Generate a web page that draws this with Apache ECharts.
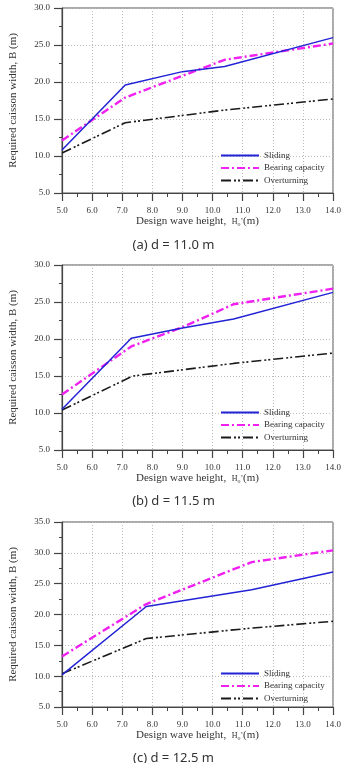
<!DOCTYPE html>
<html>
<head>
<meta charset="utf-8">
<script src="https://cdn.jsdelivr.net/npm/echarts@6/dist/echarts.min.js"></script>
<style>
html,body{margin:0;padding:0;background:#fff;}
#chart{width:347px;height:763px;}
</style>
</head>
<body>
<div id="chart"></div>
<script>
// ---- Data ----
var seriesNames = ['Sliding', 'Bearing capacity', 'Overturning'];
var captions = ['(a) d = 11.0 m', '(b) d = 11.5 m', '(c) d = 12.5 m'];
var xTicks = [5, 6, 7, 8, 9, 10, 11, 12, 13, 14];
var yMaxes = [30, 30, 35];

// Panel (a) d = 11.0 m
var hSlidingA = [5.0, 7.1, 9.0, 10.4, 14.0];
var bSlidingA = [10.8, 19.6, 21.4, 22.1, 26.0];
var hBearingA = [5.0, 7.1, 10.4, 14.0];
var bBearingA = [12.1, 17.9, 23.0, 25.2];
var hOverA = [5.0, 7.1, 10.4, 14.0];
var bOverA = [10.4, 14.5, 16.2, 17.7];

// Panel (b) d = 11.5 m
var hSlidingB = [5.0, 7.3, 9.0, 10.7, 14.0];
var bSlidingB = [10.5, 20.1, 21.5, 22.7, 26.3];
var hBearingB = [5.0, 7.3, 9.0, 10.7, 14.0];
var bBearingB = [12.5, 19.0, 21.6, 24.7, 26.8];
var hOverB = [5.0, 7.35, 10.7, 14.0];
var bOverB = [10.4, 15.0, 16.7, 18.1];

// Panel (c) d = 12.5 m
var hSlidingC = [5.0, 7.8, 11.3, 14.0];
var bSlidingC = [10.2, 21.3, 24.0, 26.9];
var hBearingC = [5.0, 7.8, 11.3, 14.0];
var bBearingC = [13.2, 21.7, 28.5, 30.4];
var hOverC = [5.0, 7.8, 11.3, 14.0];
var bOverC = [10.4, 16.1, 17.8, 18.9];

var panels = [
  [[hSlidingA, bSlidingA], [hBearingA, bBearingA], [hOverA, bOverA]],
  [[hSlidingB, bSlidingB], [hBearingB, bBearingB], [hOverB, bOverB]],
  [[hSlidingC, bSlidingC], [hBearingC, bBearingC], [hOverC, bOverC]]
];

// ---- Styles ----
var SERIF = '"Liberation Serif","DejaVu Serif",serif';
var gridTops = [8, 265, 522];
var gridH = 185;
var lineStyles = [
  {color: '#2323d6', width: 1.5, type: 'solid'},
  {color: '#f020f0', width: 2.4, type: [8, 3, 2, 3]},
  {color: '#1a1a1a', width: 1.6, type: [10, 3, 2, 2, 2, 3]}
];
var captionCenters = [243, 499, 756];
var legendTops = [146, 403, 664];

function zip(a, b) { return a.map(function (v, i) { return [v, b[i]]; }); }

var grids = [], xAxes = [], yAxes = [], series = [], legends = [], titles = [];
for (var p = 0; p < 3; p++) {
  grids.push({left: 57, right: 14, top: gridTops[p], height: gridH,
    show: true, borderColor: '#555', borderWidth: 1, backgroundColor: 'transparent'});
  xAxes.push({
    type: 'value', gridIndex: p, min: 5, max: 14, interval: 1,
    name: 'Design wave height,  {h|H}{s|o}{h|\u2019}(m)',
    nameLocation: 'middle', nameGap: 23,
    nameTextStyle: {fontFamily: SERIF, fontSize: 11, color: '#333',
      rich: {h: {fontFamily: SERIF, fontSize: 8, color: '#333'},
             s: {fontFamily: SERIF, fontSize: 6, color: '#333', padding: [5, 0, 0, 0]}}},
    axisLine: {show: true, lineStyle: {color: '#444', width: 1.2}},
    axisTick: {show: true, inside: false, length: 8, lineStyle: {color: '#444', width: 1.2}},
    minorTick: {show: true, splitNumber: 2, length: 4, lineStyle: {color: '#444', width: 1}},
    axisLabel: {fontFamily: SERIF, fontSize: 9, color: '#333', margin: 13,
      formatter: function (v) { return v.toFixed(1); }},
    splitLine: {show: true, lineStyle: {color: '#bbb', type: [1, 2], width: 1}}
  });
  yAxes.push({
    type: 'value', gridIndex: p, min: 5, max: yMaxes[p], interval: 5,
    name: 'Required caisson width, B (m)',
    nameLocation: 'middle', nameGap: 43,
    nameTextStyle: {fontFamily: SERIF, fontSize: 11, color: '#333'},
    axisLine: {show: true, lineStyle: {color: '#444', width: 1.2}},
    axisTick: {show: true, inside: false, length: 8, lineStyle: {color: '#444', width: 1.2}},
    minorTick: {show: true, splitNumber: 2, length: 3, lineStyle: {color: '#444', width: 1}},
    axisLabel: {fontFamily: SERIF, fontSize: 9, color: '#333', margin: 12,
      formatter: function (v) { return v.toFixed(1); }},
    splitLine: {show: true, lineStyle: {color: '#bbb', type: [1, 2], width: 1}}
  });
  for (var s = 0; s < 3; s++) {
    series.push({
      type: 'line', name: seriesNames[s], xAxisIndex: p, yAxisIndex: p,
      data: zip(panels[p][s][0], panels[p][s][1]),
      showSymbol: false, symbol: 'none', lineStyle: lineStyles[s],
      itemStyle: {color: lineStyles[s].color}, z: 3 - s + 2, animation: false
    });
  }
  legends.push({
    show: true, orient: 'vertical', left: 215, top: legendTops[p],
    itemWidth: 38, itemHeight: 8, itemGap: 3.5,
    data: seriesNames.slice(), selectedMode: false,
    itemStyle: {opacity: 0},
    textStyle: {fontFamily: SERIF, fontSize: 9, color: '#333'}
  });
  titles.push({
    text: captions[p], left: 'center', top: captionCenters[p] - 9,
    textStyle: {fontFamily: '"Noto Sans","Open Sans",sans-serif', fontSize: 13, fontWeight: 'normal', color: '#333'}
  });
}

var chart = echarts.init(document.getElementById('chart'), null, {renderer: 'canvas'});
chart.setOption({
  animation: false,
  backgroundColor: '#fff',
  title: titles,
  legend: legends,
  grid: grids,
  xAxis: xAxes,
  yAxis: yAxes,
  series: series
});
</script>
</body>
</html>
